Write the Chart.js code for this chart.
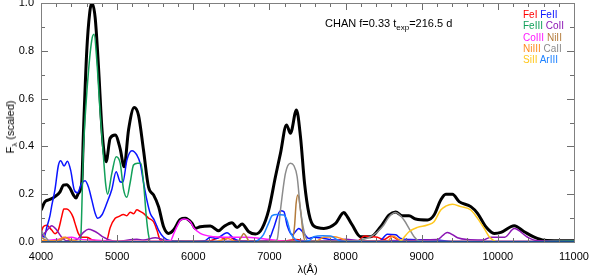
<!DOCTYPE html>
<html>
<head>
<meta charset="utf-8">
<script src="https://cdn.jsdelivr.net/npm/chart.js@4"></script>
<style>
  html,body{margin:0;padding:0;background:#fff;}
  #wrap{position:relative;width:589px;height:279px;font-family:"Liberation Sans",Arial,sans-serif;}
  canvas{display:block;}
  .ov{position:absolute;white-space:nowrap;color:#000;}
  sub{font-size:8px;vertical-align:-3px;line-height:0;}
  #legend{left:523px;top:9px;font-size:10px;line-height:11.3px;}
</style>
</head>
<body>
<div id="wrap">
  <canvas id="c" width="589" height="279"></canvas>
  <div class="ov" style="left:325px;top:17px;font-size:11px;">CHAN f=0.33 t<sub>exp</sub>=216.5 d</div>
  <div class="ov" id="legend"></div>
  <div class="ov" style="left:10px;top:127px;font-size:11px;transform:translate(-50%,-50%) rotate(-90deg);">F<sub>λ</sub> (scaled)</div>
</div>
<script>
// ---- data (wavelength in Å, scaled flux) ----
const totalWave = [4000,4053,4118,4184,4250,4294,4338,4382,4425,4460,4491,4535,4557,4601,4640,4667,4711,4755,4799,4830,4855,4908,4974,5040,5092,5150,5224,5281,5346,5412,5478,5544,5610,5676,5741,5829,5895,5983,6026,6092,6224,6333,6399,6509,6575,6641,6728,6816,6904,6991,7079,7145,7224,7276,7355,7408,7461,7518,7583,7715,7869,7978,8022,8088,8198,8329,8461,8570,8658,8746,8833,8921,9075,9162,9250,9316,9404,9491,9645,9733,9842,9952,10040,10215,10346,10478,10610,10800,11000];
const totalFlux = [0.133,0.169,0.178,0.19,0.21,0.238,0.24,0.225,0.197,0.184,0.204,0.246,0.455,0.80,0.96,1.0,0.94,0.733,0.48,0.37,0.336,0.434,0.448,0.39,0.315,0.47,0.563,0.53,0.385,0.23,0.197,0.148,0.064,0.036,0.05,0.094,0.099,0.078,0.057,0.064,0.067,0.047,0.064,0.081,0.061,0.075,0.043,0.033,0.057,0.134,0.273,0.371,0.49,0.455,0.552,0.44,0.246,0.12,0.067,0.057,0.078,0.123,0.106,0.071,0.022,0.022,0.064,0.113,0.126,0.11,0.11,0.096,0.092,0.113,0.176,0.20,0.20,0.169,0.148,0.12,0.064,0.036,0.04,0.068,0.043,0.02,0.007,0.005,0.005];

const feIWave = [4000,4030,4075,4140,4184,4228,4272,4300,4340,4380,4420,4447,4490,4535,4600,4667,4750,4860,4908,4974,5018,5084,5128,5172,5215,5259,5303,5346,5412,5478,5522,5566,5620,6200,6355,6420,6487,6560,6700,7200,7350,7500,8150,8250,8329,8417,8500,8592,8658,8724,8900,11000];
const feIFlux = [0.036,0.064,0.07,0.05,0.035,0.05,0.106,0.138,0.138,0.128,0.105,0.078,0.036,0.02,0.02,0.01,0.004,0.005,0.06,0.099,0.106,0.115,0.11,0.125,0.118,0.135,0.128,0.12,0.1,0.085,0.05,0.008,0.003,0.003,0.02,0.012,0.02,0.005,0.003,0.005,0.01,0.003,0.003,0.025,0.022,0.02,0.01,0.025,0.015,0.004,0.002,0.002];

const feIIWave = [4000,4040,4075,4118,4140,4184,4228,4259,4303,4347,4390,4435,4478,4535,4579,4623,4667,4711,4745,4799,4864,4930,4987,5040,5075,5128,5194,5259,5303,5346,5390,5434,5487,5544,5610,5700,6000,6150,6224,6300,6443,6530,6600,6800,6990,7057,7145,7190,7232,7298,7386,7452,7518,7583,7715,7850,8100,8450,8548,8658,8724,8850,9200,9400,11000];
const feIIFlux = [0.04,0.02,0.06,0.11,0.15,0.22,0.32,0.34,0.318,0.338,0.30,0.22,0.206,0.246,0.256,0.23,0.176,0.12,0.099,0.113,0.162,0.22,0.294,0.252,0.25,0.343,0.382,0.364,0.329,0.25,0.176,0.12,0.092,0.05,0.02,0.005,0.003,0.005,0.02,0.015,0.039,0.015,0.005,0.003,0.01,0.06,0.131,0.127,0.07,0.03,0.057,0.036,0.015,0.02,0.015,0.008,0.003,0.005,0.032,0.03,0.015,0.01,0.008,0.002,0.002];

const feIIIWave = [4000,4500,4520,4557,4610,4667,4697,4733,4777,4820,4850,4875,4930,4987,5040,5084,5128,5172,5215,5268,5312,5346,5382,5412,5440,10400,10700,11000];
const feIIIFlux = [0,0,0.01,0.385,0.66,0.845,0.869,0.76,0.54,0.357,0.24,0.2,0.287,0.357,0.33,0.22,0.187,0.25,0.322,0.33,0.33,0.25,0.11,0.03,0,0,0.005,0.005];

const coIIWave = [4000,4030,4097,4140,4206,4272,4338,4470,4557,4623,4689,4755,4820,4886,5000,5259,5346,5500,5600,5700,7800,8000,8200,9200,9338,9470,9600,9800,9910,10090,10216,10390,10520,11000];
const coIIFlux = [0.02,0.03,0.055,0.068,0.05,0.02,0.005,0.01,0.04,0.053,0.047,0.035,0.02,0.01,0.003,0.012,0.008,0.018,0.01,0.002,0.005,0.012,0.005,0.01,0.04,0.018,0.01,0.008,0.02,0.02,0.056,0.02,0.005,0.002];

const coIIIWave = [4000,4200,4400,4500,4700,5000,5500,5700,5750,5785,5829,5880,5961,6004,6092,6270,6400,6530,6700,6880,7060,7300,11000];
const coIIIFlux = [0.005,0.01,0.02,0.012,0.008,0.003,0.003,0.005,0.04,0.064,0.09,0.096,0.085,0.06,0.036,0.022,0.02,0.02,0.02,0.015,0.008,0.002,0.001];

const niIIWave = [4000,4100,4250,4320,4400,4500,6580,6630,6662,6700,6740,7290,7329,7351,7373,7408,7443,7470,11000];
const niIIFlux = [0.02,0.003,0.005,0.02,0.005,0.001,0.001,0.02,0.036,0.02,0.001,0.001,0.064,0.163,0.197,0.134,0.036,0.002,0.001];

const niIIIWave = [4000,4200,4300,4400,4500,6300,6450,6550,7600,7715,7850,7940,8050,8550,8620,8700,8800,11000];
const niIIIFlux = [0.005,0.005,0.02,0.008,0.002,0.002,0.015,0.002,0.002,0.02,0.022,0.015,0.003,0.003,0.025,0.01,0.002,0.001];

const caIIWave = [4000,4060,4120,7050,7101,7145,7211,7276,7320,7364,7408,7461,7510,8150,8200,8329,8417,8500,8570,8658,8767,8833,8900,8965,9050,11000];
const caIIFlux = [0.05,0.02,0.002,0.002,0.01,0.134,0.288,0.329,0.32,0.273,0.134,0.036,0.003,0.003,0.008,0.022,0.042,0.07,0.105,0.123,0.092,0.057,0.022,0.004,0.001,0.001];

const siIIWave = [4000,8650,8724,8833,8943,9075,9162,9250,9316,9404,9513,9645,9733,9820,9886,9952,10000,11000];
const siIIFlux = [0,0,0.005,0.043,0.061,0.071,0.085,0.134,0.15,0.158,0.148,0.134,0.099,0.057,0.022,0.005,0,0];

const arIIIWave = [4000,6800,6860,6920,6991,7035,7100,7190,7232,7276,7342,7400,7520,7583,7700,7800,7890,7950,11000];
const arIIIFlux = [0,0.001,0.01,0.03,0.08,0.11,0.115,0.113,0.09,0.04,0.01,0.002,0.005,0.022,0.026,0.025,0.01,0.002,0.001];

const baseWave = [4000,11000];
const baseFlux = [0,0];

const xTicks = [4000,5000,6000,7000,8000,9000,10000,11000];
const yTicks = [0.0,0.2,0.4,0.6,0.8,1.0];

const species = [
  ['FeI',  feIWave,  feIFlux,  '#ff0000'],
  ['FeII', feIIWave, feIIFlux, '#0a14ff'],
  ['FeIII',feIIIWave,feIIIFlux,'#12a05a'],
  ['CoII', coIIWave, coIIFlux, '#8c16b4'],
  ['CoIII',coIIIWave,coIIIFlux,'#ff18ff'],
  ['NiII', niIIWave, niIIFlux, '#b47c3c'],
  ['NiIII',niIIIWave,niIIIFlux,'#ff8c1e'],
  ['CaII', caIIWave, caIIFlux, '#8c8c8c'],
  ['SiII', siIIWave, siIIFlux, '#ffc81e'],
  ['ArIII',arIIIWave,arIIIFlux,'#1e82ff']
];

// legend (text)
const legendRows = [['FeI','FeII'],['FeIII','CoII'],['CoIII','NiII'],['NiIII','CaII'],['SiII','ArIII']];
const colorOf = Object.fromEntries(species.map(s => [s[0], s[3]]));
document.getElementById('legend').innerHTML = legendRows.map(r =>
  `<div><span style="color:${colorOf[r[0]]}">${r[0]}</span> <span style="color:${colorOf[r[1]]}">${r[1]}</span></div>`).join('');

const pts = (w, f) => w.map((x, i) => ({x, y: f[i]}));

const datasets = [];
species.forEach((s, i) => {
  datasets.push({label: s[0], data: pts(s[1], s[2]), borderColor: s[3], borderWidth: 1.5, order: 10 - i});
});
datasets.push({label: 'base', data: pts(baseWave, baseFlux), borderColor: '#163c6e', borderWidth: 1.5, order: 0});
datasets.push({label: 'total', data: pts(totalWave, totalFlux), borderColor: '#000000', borderWidth: 3, order: 50});

const frame = {
  id: 'frame',
  afterDraw(chart) {
    const {ctx, chartArea: a, scales: {x, y}} = chart;
    ctx.save();
    ctx.strokeStyle = '#6e6e6e';
    ctx.lineWidth = 1;
    ctx.beginPath();
    for (let v = 4000; v <= 11000; v += 200) {
      const px = Math.round(x.getPixelForValue(v)) + 0.5;
      const L = (v % 1000 === 0) ? 7 : 4;
      ctx.moveTo(px, a.bottom); ctx.lineTo(px, a.bottom - L);
      ctx.moveTo(px, a.top); ctx.lineTo(px, a.top + L);
    }
    for (let k = 0; k <= 10; k++) {
      const py = Math.round(y.getPixelForValue(k / 10)) + 0.5;
      const L = (k % 2 === 0) ? 7 : 4;
      ctx.moveTo(a.left, py); ctx.lineTo(a.left + L, py);
      ctx.moveTo(a.right, py); ctx.lineTo(a.right - L, py);
    }
    ctx.stroke();
    ctx.strokeStyle = '#808080';
    ctx.strokeRect(Math.round(a.left) + 0.5, Math.round(a.top) + 0.5, Math.round(a.right - a.left), Math.round(a.bottom - a.top));
    ctx.restore();
  }
};

const font = {family: '"Liberation Sans", Arial, sans-serif', size: 11};

new Chart(document.getElementById('c'), {
  type: 'line',
  data: {datasets},
  options: {
    responsive: false,
    animation: false,
    devicePixelRatio: 1,
    layout: {padding: {top: 3, right: 15, left: 0, bottom: 0}},
    elements: {point: {radius: 0}, line: {cubicInterpolationMode: 'monotone', fill: false}},
    plugins: {legend: {display: false}, tooltip: {enabled: false}},
    scales: {
      x: {
        type: 'linear', min: 4000, max: 11000,
        afterBuildTicks: s => { s.ticks = xTicks.map(v => ({value: v})); },
        ticks: {font, color: '#000', padding: 8, maxRotation: 0, autoSkip: false, callback: v => String(v)},
        grid: {display: false, drawTicks: false}, border: {display: false},
        title: {display: true, text: 'λ(Å)', font, color: '#000', padding: {top: 0, bottom: 2}},
        afterFit: s => { s.height = 37; s.paddingLeft = 0; s.paddingRight = 0; }
      },
      y: {
        min: 0, max: 1,
        afterBuildTicks: s => { s.ticks = yTicks.map(v => ({value: v})); },
        ticks: {font, color: '#000', padding: 7, callback: v => Number(v).toFixed(1)},
        grid: {display: false, drawTicks: false}, border: {display: false},
        afterFit: s => { s.width = 41; s.paddingTop = 0; s.paddingBottom = 0; }
      }
    }
  },
  plugins: [frame]
});
</script>
</body>
</html>
